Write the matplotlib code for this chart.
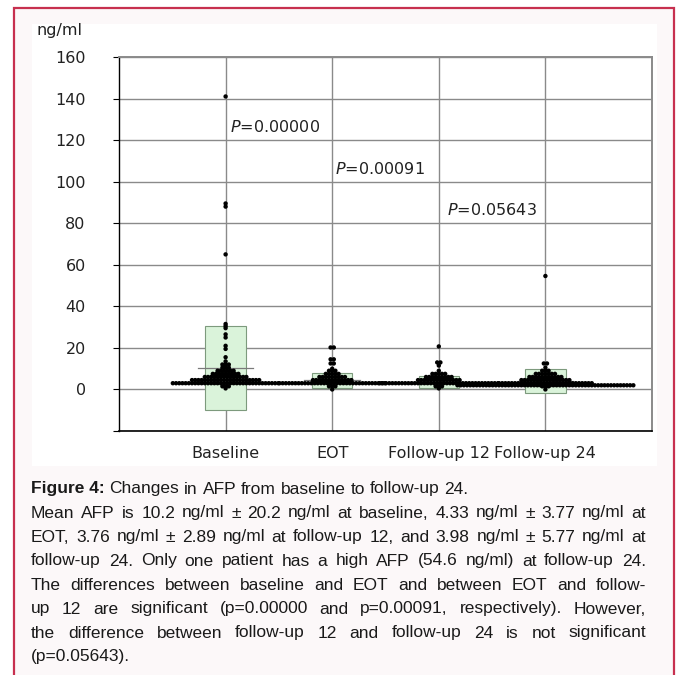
import matplotlib
matplotlib.use("Agg")
import matplotlib.pyplot as plt
import numpy as np
from matplotlib import font_manager
from matplotlib.patches import Rectangle

W, H = 676, 675

categories = ["Baseline", "EOT", "Follow-up 12", "Follow-up 24"]
means = [10.2, 4.33, 3.76, 3.98]
sds = [20.2, 3.77, 2.89, 5.77]

# dot rows per group: AFP level (ng/ml) and number of patients stacked side by side at it
baseline_levels = [0.5, 1.5, 3.0, 4.5, 6.0, 7.5, 9.0, 10.5, 12.0, 13.5, 15.5, 19.5, 21.0,
                   25.0, 26.5, 29.5, 30.5, 31.5, 65.0, 88.0, 89.5, 141.0]
baseline_counts = [1, 3, 34, 22, 14, 9, 6, 3, 3, 1, 1, 1, 1, 1, 1, 1, 1, 1, 1, 1, 1, 1]

eot_levels = [0.0, 1.5, 3.0, 4.5, 6.0, 7.5, 9.0, 10.0, 12.5, 14.5, 20.2]
eot_counts = [1, 3, 34, 13, 9, 5, 3, 1, 2, 2, 2]

fu12_levels = [0.5, 1.5, 3.0, 4.5, 6.0, 7.5, 9.0, 11.5, 13.0, 20.7]
fu12_counts = [1, 3, 38, 14, 9, 5, 1, 1, 2, 1]

fu24_levels = [0.0, 1.5, 2.0, 3.0, 4.5, 6.0, 7.5, 9.0, 10.5, 12.5, 54.6]
fu24_counts = [1, 3, 56, 30, 16, 11, 7, 3, 1, 2, 1]

p_values = ["0.00000", "0.00091", "0.05643"]

caption_title = "Figure 4:"
caption_lines = [
    "Changes in AFP from baseline to follow-up 24.",
    "Mean AFP is 10.2 ng/ml \u00b1 20.2 ng/ml at baseline, 4.33 ng/ml \u00b1 3.77 ng/ml at",
    "EOT, 3.76 ng/ml \u00b1 2.89 ng/ml at follow-up 12, and 3.98 ng/ml \u00b1 5.77 ng/ml at",
    "follow-up 24. Only one patient has a high AFP (54.6 ng/ml) at follow-up 24.",
    "The differences between baseline and EOT and between EOT and follow-",
    "up 12 are significant (p=0.00000 and p=0.00091, respectively). However,",
    "the difference between follow-up 12 and follow-up 24 is not significant",
    "(p=0.05643).",
]


def fx(x):
    return x / W


def fy(y):
    return 1 - y / H


fig = plt.figure(figsize=(W / 100, H / 100), dpi=100)
fig.patch.set_facecolor("white")

# page frame and white chart image
fig.patches.append(Rectangle((fx(14), fy(720)), fx(674) - fx(14), fy(8) - fy(720),
                             transform=fig.transFigure, facecolor="#fcf8f9",
                             edgecolor="#c7304f", lw=1.6, zorder=-2))
fig.patches.append(Rectangle((fx(32), fy(466)), fx(657) - fx(32), fy(24) - fy(466),
                             transform=fig.transFigure, facecolor="white",
                             edgecolor="none", zorder=-1))

ax = fig.add_axes([fx(119), fy(431), fx(652) - fx(119), fy(57) - fy(431)])
ax.set_zorder(1)
ax.set_facecolor("white")
ax.set_xlim(0, 5)
ax.set_ylim(-20, 160)

grid_c = "#8a8a8a"
yt = list(range(-20, 161, 20))
ax.set_yticks(yt)
ax.set_yticklabels([""] + [str(v) for v in yt[1:]])
ax.yaxis.grid(True, color=grid_c, lw=1.0)
for k in range(1, 5):
    ax.axvline(k, color=grid_c, lw=1.0, zorder=1)
ax.set_axisbelow(True)
ax.set_xticks(range(1, 5))
ax.set_xticklabels(categories)

for side in ["top", "right"]:
    ax.spines[side].set_color(grid_c)
    ax.spines[side].set_linewidth(1.4)
ax.spines["left"].set_color("black")
ax.spines["bottom"].set_color("black")
ax.spines["left"].set_linewidth(1.0)
ax.spines["bottom"].set_linewidth(1.2)

ax.tick_params(axis="y", length=4, width=0.8, color="black", pad=20,
               labelsize=11.5, labelcolor="#222222")
ax.tick_params(axis="x", length=0, pad=11, labelsize=11.5, labelcolor="#222222")

fig.text(fx(36), fy(31), "ng/ml", fontsize=11.5, color="#222222", va="center", ha="left")

# mean +/- SD boxes and mean lines
box_w = 0.38
for k, (m, s) in enumerate(zip(means, sds), start=1):
    ax.add_patch(Rectangle((k - box_w / 2, m - s), box_w, 2 * s, facecolor="#daf3da",
                           edgecolor="#7d9a7d", lw=0.8, zorder=2))
    ax.plot([k - 0.26, k + 0.26], [m, m], color="#7a7a7a", lw=0.9, zorder=2.5)

# dot plot
dx = 0.03
groups = [(baseline_levels, baseline_counts), (eot_levels, eot_counts),
          (fu12_levels, fu12_counts), (fu24_levels, fu24_counts)]
for k, (levels, counts) in enumerate(groups, start=1):
    for v, n in zip(levels, counts):
        xs = k + (np.arange(n) - (n - 1) / 2) * dx
        ax.scatter(xs, np.full(n, v), s=10, color="black", edgecolors="none", zorder=3)

# p-values between consecutive time points
p_pos = [(1.04, 126.4), (2.03, 106.0), (3.08, 86.5)]
for (px, py), p in zip(p_pos, p_values):
    ax.text(px, py, r"$P$=" + p, fontsize=11.5, color="#222222", va="center", ha="left",
            zorder=4)

# caption, justified like the journal layout
names = {f.name for f in font_manager.fontManager.ttflist}
if "Liberation Sans Narrow" in names:
    cap_family, cap_size = "Liberation Sans Narrow", 13
else:
    cap_family, cap_size = "Liberation Sans", 12.5

renderer = fig.canvas.get_renderer()
x0, x1 = 31, 646
y0, dy = 489, 24.0


def width_of(t):
    return t.get_window_extent(renderer).width


probe_a = fig.text(0, 0, "x x", family=cap_family, fontsize=cap_size)
probe_b = fig.text(0, 0, "xx", family=cap_family, fontsize=cap_size)
space_w = width_of(probe_a) - width_of(probe_b)
probe_a.remove()
probe_b.remove()

for i, line in enumerate(caption_lines):
    y = fy(y0 + dy * i)
    words = line.split(" ")
    texts = [fig.text(0, y, w, family=cap_family, fontsize=cap_size, color="#1a1a1a",
                      va="center", ha="left") for w in words]
    widths = [width_of(t) for t in texts]
    x = x0
    if i == 0:
        tt = fig.text(fx(x0), y, caption_title, family=cap_family, fontsize=cap_size,
                      weight="bold", color="#1a1a1a", va="center", ha="left")
        x = x0 + width_of(tt) + space_w
    justify = 0 < i < len(caption_lines) - 1
    gap = (x1 - x0 - sum(widths)) / (len(words) - 1) if justify else space_w
    for t, w in zip(texts, widths):
        t.set_x(fx(x))
        x += w + gap

fig.savefig("out.png", dpi=100, facecolor="white")
